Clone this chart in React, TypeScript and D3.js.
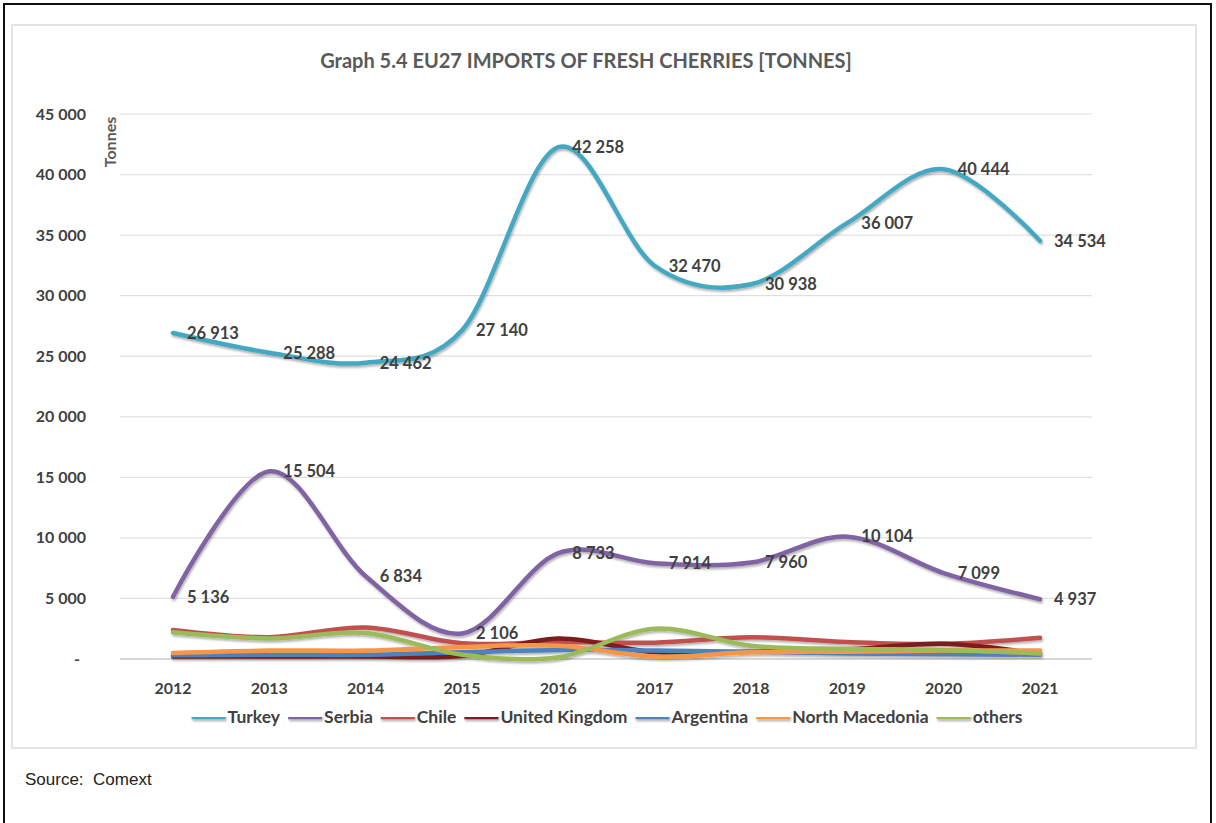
import React, { useEffect, useRef } from "react";
import * as d3 from "d3";

const years = ["2012", "2013", "2014", "2015", "2016", "2017", "2018", "2019", "2020", "2021"];
const turkey = [26913, 25288, 24462, 27140, 42258, 32470, 30938, 36007, 40444, 34534];
const serbia = [5136, 15504, 6834, 2106, 8733, 7914, 7960, 10104, 7099, 4937];
const chile = [2400, 1800, 2600, 1300, 1400, 1350, 1800, 1400, 1250, 1750];
const unitedKingdom = [200, 200, 200, 250, 1700, 550, 600, 800, 1250, 400];
const argentina = [300, 350, 350, 550, 750, 700, 600, 450, 400, 350];
const northMacedonia = [500, 700, 700, 1000, 1100, 200, 550, 600, 700, 700];
const others = [2200, 1700, 2150, 350, 150, 2500, 1100, 850, 750, 450];
const yTicks = [0, 5000, 10000, 15000, 20000, 25000, 30000, 35000, 40000, 45000];

const seriesNames = ["Turkey", "Serbia", "Chile", "United Kingdom", "Argentina", "North Macedonia", "others"];
const seriesValues = [turkey, serbia, chile, unitedKingdom, argentina, northMacedonia, others];
const seriesColors = ["#45A8C2", "#8064A2", "#C0504D", "#7B1E1E", "#4F81BD", "#F79646", "#9BBB59"];
const labelled = [true, true, false, false, false, false, false];

const W = 1216;
const H = 823;
const FONT = "Lato, 'Noto Sans', sans-serif";

export default function App() {
  const ref = useRef<SVGSVGElement>(null);

  useEffect(() => {
    const svg = d3.select(ref.current);
    svg.selectAll("*").remove();

    const defs = svg.append("defs");
    const f = defs.append("filter").attr("id", "shadow").attr("filterUnits", "userSpaceOnUse")
      .attr("x", 0).attr("y", 0).attr("width", W).attr("height", H);
    f.append("feDropShadow").attr("dx", 1).attr("dy", 2).attr("stdDeviation", 1.2).attr("flood-color", "#000").attr("flood-opacity", 0.3);

    // frames
    svg.append("rect").attr("x", 0).attr("y", 0).attr("width", W).attr("height", H).attr("fill", "#fff");
    svg.append("path").attr("d", `M4,${H} L4,4 L1211,4 L1211,${H}`).attr("fill", "none").attr("stroke", "#111").attr("stroke-width", 2);
    svg.append("rect").attr("x", 12).attr("y", 25).attr("width", 1184).attr("height", 723).attr("fill", "#fff").attr("stroke", "#dcdcdc").attr("stroke-width", 1.5);

    const x = d3.scalePoint<string>().domain(years).range([173, 1040]);
    const y = d3.scaleLinear().domain([0, 45000]).range([659, 114]);

    // gridlines
    const grid = svg.append("g");
    grid.selectAll("line").data(yTicks).join("line")
      .attr("x1", 120).attr("x2", 1092)
      .attr("y1", (d) => y(d)).attr("y2", (d) => y(d))
      .attr("stroke", (d) => (d === 0 ? "#c8c8c8" : "#e0e0e0"))
      .attr("stroke-width", (d) => (d === 0 ? 1.5 : 1.2));

    // y tick labels
    const fmt = (v: number) => (v === 0 ? "-" : d3.format(",")(v).replace(/,/g, " "));
    svg.append("g").selectAll("text").data(yTicks).join("text")
      .attr("x", (d) => (d === 0 ? 80 : 86)).attr("y", (d) => y(d))
      .attr("dy", "0.35em").attr("text-anchor", "end")
      .attr("font-family", FONT).attr("font-weight", 700).attr("font-size", 16)
      .attr("fill", "#404040").text((d) => fmt(d));

    // Tonnes label
    svg.append("text")
      .attr("transform", "translate(110,142) rotate(-90)")
      .attr("text-anchor", "middle").attr("dy", "0.35em")
      .attr("font-family", FONT).attr("font-weight", 700).attr("font-size", 16)
      .attr("fill", "#595959").text("Tonnes");

    // x labels
    svg.append("g").selectAll("text").data(years).join("text")
      .attr("x", (d) => x(d)!).attr("y", 688).attr("dy", "0.35em").attr("text-anchor", "middle")
      .attr("font-family", FONT).attr("font-weight", 700).attr("font-size", 16)
      .attr("fill", "#404040").text((d) => d);

    // title
    svg.append("text").attr("x", 586).attr("y", 61).attr("dy", "0.35em").attr("text-anchor", "middle")
      .attr("font-family", FONT).attr("font-weight", 700).attr("font-size", 20)
      .attr("fill", "#595959").text("Graph 5.4 EU27 IMPORTS OF FRESH CHERRIES [TONNES]");

    // lines
    const line = d3.line<number>()
      .x((_, i) => x(years[i])!)
      .y((d) => y(d))
      .curve(d3.curveCardinal.tension(0));

    const linesG = svg.append("g").attr("filter", "url(#shadow)");
    seriesValues.forEach((vals, si) => {
      linesG.append("path").datum(vals)
        .attr("d", line)
        .attr("fill", "none")
        .attr("stroke", seriesColors[si])
        .attr("stroke-width", 4.5)
        .attr("stroke-linecap", "round");
    });

    // data labels
    const labelsG = svg.append("g");
    seriesValues.forEach((vals, si) => {
      if (!labelled[si]) return;
      labelsG.selectAll(null).data(vals).join("text")
        .attr("x", (_, i) => x(years[i])! + 14)
        .attr("y", (d) => y(d)).attr("dy", "0.35em")
        .attr("font-family", FONT).attr("font-weight", 700).attr("font-size", 16.5)
        .attr("fill", "#404040").text((d) => fmt(d));
    });

    // legend
    const legendG = svg.append("g");
    const items = seriesNames.map((name, i) => {
      const g = legendG.append("g");
      g.append("rect").attr("x", 0).attr("width", 34).attr("y", -2.25).attr("height", 4.5)
        .attr("fill", seriesColors[i]).attr("filter", "url(#shadow)");
      const t = g.append("text").attr("x", 36).attr("dy", "0.35em")
        .attr("font-family", FONT).attr("font-weight", 700).attr("font-size", 17.5)
        .attr("fill", "#404040").text(name);
      const w = 36 + (t.node() as SVGTextElement).getComputedTextLength();
      return { g, w };
    });
    const gap = 8;
    const total = items.reduce((s, it) => s + it.w, 0) + gap * (items.length - 1);
    let cx = 607 - total / 2;
    items.forEach((it) => {
      it.g.attr("transform", `translate(${cx},717)`);
      cx += it.w + gap;
    });

    // source
    svg.append("text").attr("x", 25).attr("y", 779).attr("dy", "0.35em")
      .attr("font-family", "'Liberation Sans', Arial, sans-serif").attr("font-size", 17)
      .style("white-space", "pre")
      .attr("fill", "#222").text("Source:  Comext");
  }, []);

  return (
    <div style={{ position: "absolute", left: 0, top: 0, width: W, height: H }}>
      <svg ref={ref} width={W} height={H} />
    </div>
  );
}
